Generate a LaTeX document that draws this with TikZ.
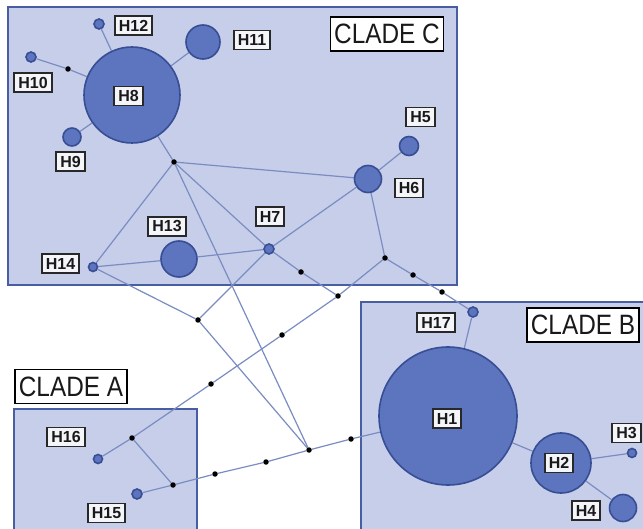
\documentclass[tikz,border=0pt]{standalone}
\usepackage{fontspec}
\setmainfont{Liberation Sans}
\newfontfamily\cladefont[FakeStretch=0.87]{Liberation Sans}

\definecolor{boxfill}{RGB}{198,206,233}
\definecolor{boxedge}{RGB}{72,94,160}
\definecolor{nodefill}{RGB}{92,117,190}
\definecolor{nodeedge}{RGB}{56,78,148}
\definecolor{linecol}{RGB}{122,140,194}
\definecolor{tagedge}{RGB}{40,40,40}
\definecolor{tagfill}{RGB}{244,245,249}

\pgfdeclarelayer{boxes}
\pgfdeclarelayer{edges}
\pgfsetlayers{boxes,edges,main}

\tikzset{
  hap/.style={circle, draw=nodeedge, fill=nodefill, line width=1.6pt,
    inner sep=0pt, minimum size=#1},
  dotnode/.style={circle, fill=black, inner sep=0pt, minimum size=5.5pt},
  link/.style={draw=linecol, line width=1.2pt},
  tag/.style={draw=tagedge, fill=tagfill, line width=1.8pt, text=black!90,
    font=\bfseries\fontsize{16}{17}\selectfont,
    inner xsep=4pt, inner ysep=2pt, minimum height=19pt},
  cladetag/.style={draw=black, fill=white, line width=1.4pt, text=black!90,
    font=\cladefont\fontsize{28}{30}\selectfont,
    inner xsep=4pt, inner ysep=2pt, minimum height=34pt},
  clade/.style={fill=boxfill, draw=boxedge, line width=2pt},
}

\begin{document}
\begin{tikzpicture}[x=1pt, y=-1pt]
\useasboundingbox (0,0) rectangle (643,529);

% page and clade areas
\begin{pgfonlayer}{boxes}
  \fill[white] (0,0) rectangle (643,529);
  \draw[clade] (8,7) rectangle (457,285);
  \draw[clade] (361,302) rectangle (660,545);
  \draw[clade] (14,409) rectangle (197,545);
\end{pgfonlayer}

% haplotypes
\node[hap=96pt]  (H8)  at (132,95)  {};
\node[hap=10pt]  (H12) at (99,24)   {};
\node[hap=34pt]  (H11) at (203,42)  {};
\node[hap=10pt]  (H10) at (31,57)   {};
\node[hap=18pt]  (H9)  at (72,137)  {};
\node[hap=19pt]  (H5)  at (409,146) {};
\node[hap=27pt]  (H6)  at (368,179) {};
\node[hap=10pt]  (H7)  at (269,249) {};
\node[hap=36pt]  (H13) at (179,259) {};
\node[hap=9pt]   (H14) at (93,267)  {};
\node[hap=10pt]  (H17) at (473,312) {};
\node[hap=138pt] (H1)  at (448,416) {};
\node[hap=60pt]  (H2)  at (561,463) {};
\node[hap=9pt]   (H3)  at (632,453) {};
\node[hap=27pt]  (H4)  at (623,508) {};
\node[hap=9pt]   (H16) at (98,459)  {};
\node[hap=10pt]  (H15) at (137,494) {};

% median vectors and mutation steps
\node[dotnode] (a1) at (68,69)   {};
\node[dotnode] (D1) at (174,162) {};
\node[dotnode] (E)  at (385,258) {};
\node[dotnode] (e1) at (413,275) {};
\node[dotnode] (e2) at (442,292) {};
\node[dotnode] (Y)  at (338,296) {};
\node[dotnode] (h1) at (301,272) {};
\node[dotnode] (F)  at (198,320) {};
\node[dotnode] (y1) at (282,335) {};
\node[dotnode] (y2) at (211,384) {};
\node[dotnode] (G)  at (132,438) {};
\node[dotnode] (K)  at (173,485) {};
\node[dotnode] (x1) at (266,462) {};
\node[dotnode] (x2) at (215,474) {};
\node[dotnode] (X)  at (309,450) {};
\node[dotnode] (x3) at (351,439) {};

% connections
\begin{pgfonlayer}{edges}
  \path[link] (H8) -- (H12);
  \path[link] (H8) -- (H11);
  \path[link] (H8) -- (a1) -- (H10);
  \path[link] (H8) -- (H9);
  \path[link] (H8) -- (D1);
  \path[link] (D1) -- (H6);
  \path[link] (D1) -- (H14);
  \path[link] (D1) -- (H7);
  \path[link] (D1) -- (X);
  \path[link] (H6) -- (H5);
  \path[link] (H6) -- (H7);
  \path[link] (H6) -- (E);
  \path[link] (E) -- (e1) -- (e2) -- (H17);
  \path[link] (H17) -- (H1);
  \path[link] (E) -- (Y);
  \path[link] (H7) -- (h1) -- (Y);
  \path[link] (H7) -- (F);
  \path[link] (H14) -- (F);
  \path[link] (F) -- (X);
  \path[link] (H14) -- (H13);
  \path[link] (H13) -- (H7);
  \path[link] (Y) -- (y1) -- (y2) -- (G);
  \path[link] (G) -- (H16);
  \path[link] (G) -- (K);
  \path[link] (K) -- (H15);
  \path[link] (X) -- (x1) -- (x2) -- (K);
  \path[link] (X) -- (x3) -- (H1);
  \path[link] (H1) -- (H2);
  \path[link] (H2) -- (H3);
  \path[link] (H2) -- (H4);
\end{pgfonlayer}

% haplotype labels
\node[tag] (lH12) at (133.5,25.5) {H12};
\node[tag] (lH10) at (33,82.5)    {H10};
\node[tag] (lH8)  at (128.5,96)   {H8};
\node[tag] (lH9)  at (70.5,161.5) {H9};
\node[tag] (lH11) at (252,40)     {H11};
\node[tag] (lH5)  at (420.5,117)  {H5};
\node[tag] (lH6)  at (409,188)    {H6};
\node[tag] (lH7)  at (270,216.5)  {H7};
\node[tag] (lH13) at (167,226.5)  {H13};
\node[tag] (lH14) at (60.5,263.5) {H14};
\node[tag] (lH17) at (436,322.5)  {H17};
\node[tag] (lH1)  at (447,418.5)  {H1};
\node[tag] (lH2)  at (559,463)    {H2};
\node[tag] (lH3)  at (626.5,433)  {H3};
\node[tag] (lH4)  at (586,510.5)  {H4};
\node[tag] (lH16) at (66,437)     {H16};
\node[tag] (lH15) at (106.5,513)  {H15};

% clade titles
\node[cladetag] (cC) at (387,34)    {CLADE C};
\node[cladetag] (cB) at (583,325)   {CLADE B};
\node[cladetag] (cA) at (71,386.5)  {CLADE A};
\end{tikzpicture}
\end{document}
